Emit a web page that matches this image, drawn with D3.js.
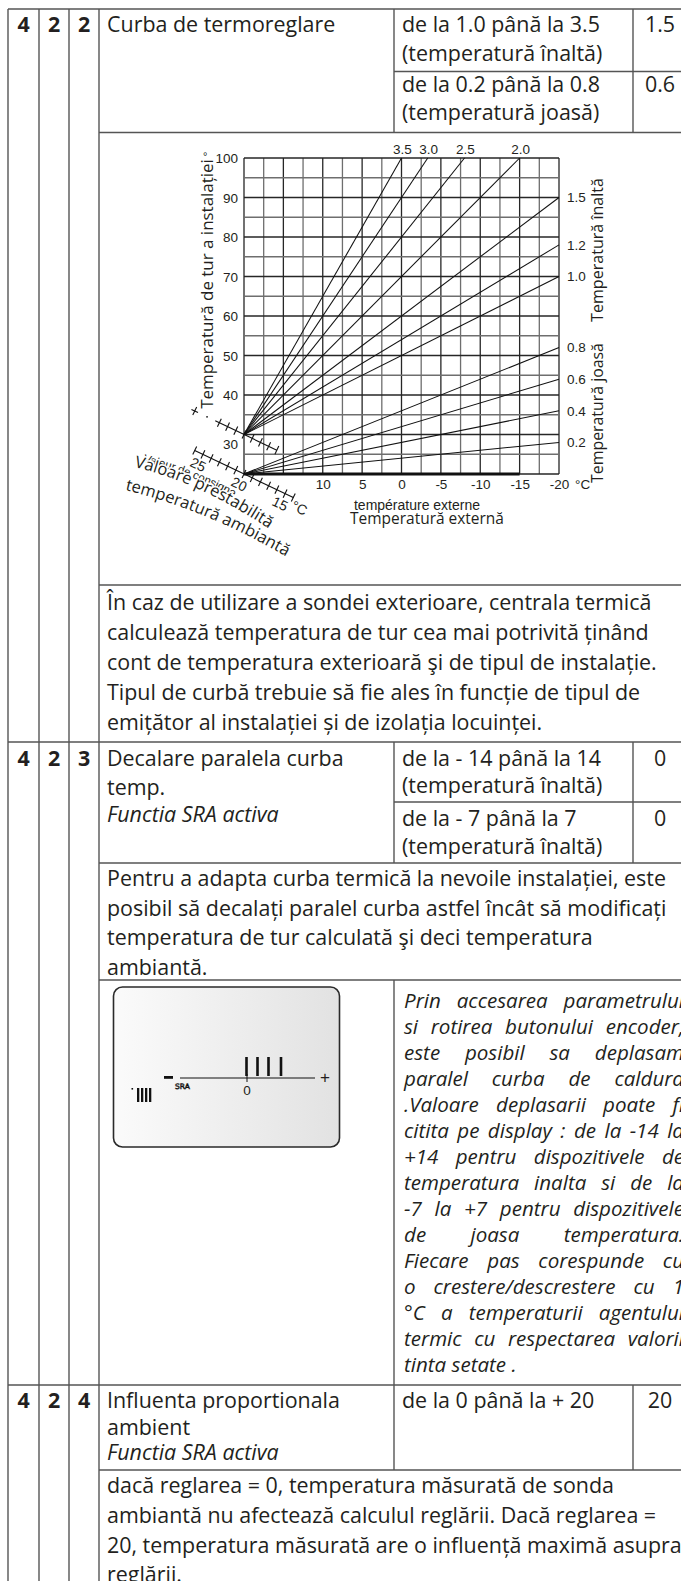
<!DOCTYPE html>
<html><head><meta charset="utf-8">
<script src="https://cdn.jsdelivr.net/npm/d3@7"></script>
<style>
html,body{margin:0;padding:0;background:#fff;overflow:hidden;}
svg{display:block;}
</style></head>
<body>
<svg id="page" width="681" height="1581"></svg>
<script>
// ================= DATA =================
const highCurves = [3.5, 3.0, 2.5, 2.0, 1.5, 1.2, 1.0];
const lowCurves = [0.8, 0.6, 0.4, 0.2];
const highOrigin = 30;          // flow temperature where high curves start (outside 20 °C)
const lowOrigin = 20;           // flow temperature where low curves start
const outsideDomain = [20, -20];
const flowDomain = [20, 100];
const xTickValues = [10, 5, 0, -5, -10, -15, -20];
const yTickValues = [100, 90, 80, 70, 60, 50, 40, 30];
const ambientTickLabels = [25, 20, 15];
const ambientRange = [26, 14];

const row422 = {num: ["4","2","2"], name: ["Curba de termoreglare"],
  ranges: [["de la 1.0 până la 3.5","(temperatură înaltă)"],["de la 0.2 până la 0.8","(temperatură joasă)"]],
  defaults: ["1.5","0.6"]};
const para1 = ["În caz de utilizare a sondei exterioare, centrala termică",
  "calculează temperatura de tur cea mai potrivită ținând",
  "cont de temperatura exterioară şi de tipul de instalație.",
  "Tipul de curbă trebuie să fie ales în funcție de tipul de",
  "emițător al instalației și de izolația locuinței."];
const row423 = {num: ["4","2","3"], name: ["Decalare paralela curba","temp."], nameItalic: "Functia SRA activa",
  ranges: [["de la - 14 până la 14","(temperatură înaltă)"],["de la - 7 până la 7","(temperatură înaltă)"]],
  defaults: ["0","0"]};
const para2 = ["Pentru a adapta curba termică la nevoile instalației, este",
  "posibil să decalați paralel curba astfel încât să modificați",
  "temperatura de tur calculată şi deci temperatura",
  "ambiantă."];
const italicPara = ["Prin accesarea parametrului","si rotirea butonului encoder,","este posibil sa deplasam",
  "paralel curba de caldura",".Valoare deplasarii poate fi","citita pe display : de la -14 la",
  "+14 pentru dispozitivele de","temperatura inalta si de la","-7 la +7 pentru dispozitivele",
  "de joasa temperatura.","Fiecare pas corespunde cu","o crestere/descrestere cu 1",
  "°C a temperaturii agentului","termic cu respectarea valorii","tinta setate ."];
const row424 = {num: ["4","2","4"], name: ["Influenta proportionala","ambient"], nameItalic: "Functia SRA activa",
  ranges: [["de la 0 până la + 20"]], defaults: ["20"]};
const para3 = ["dacă reglarea = 0, temperatura măsurată de sonda",
  "ambiantă nu afectează calculul reglării. Dacă reglarea =",
  "20, temperatura măsurată are o influență maximă asupra",
  "reglării."];

// ================= SETUP =================
const svg = d3.select('#page');
const TXT = '#231f20';
const LINE = '#555';
const BODY = '"Open Sans", "Noto Sans", sans-serif';
const NARROW = '"Liberation Sans Narrow", "Arial Narrow", "Liberation Sans", sans-serif';
const ctx = document.createElement('canvas').getContext('2d');
function measure(t, size, fam, weight, style){
  ctx.font = `${style||'normal'} ${weight||'normal'} ${size}px ${fam}`;
  return ctx.measureText(t).width;
}
const FS = 198 / measure('de la 1.0 până la 3.5', 100, BODY) * 100;

function txt(g, xx, yy, s, o){
  o = o || {};
  return g.append('text').attr('x', xx).attr('y', yy).text(s)
    .attr('font-family', o.fam || BODY).attr('font-size', o.size || FS)
    .attr('font-weight', o.weight || 'normal').attr('font-style', o.style || 'normal')
    .attr('text-anchor', o.anchor || 'start').attr('fill', TXT);
}

// column boundaries
const X = [8, 39, 69, 99, 394, 633, 685];
const T = svg.append('g');
function hline(y, x1, x2){ T.append('line').attr('x1',x1).attr('x2',x2).attr('y1',y).attr('y2',y).attr('stroke',LINE).attr('stroke-width',1.4); }
function vline(x, y1, y2){ T.append('line').attr('x1',x).attr('x2',x).attr('y1',y1).attr('y2',y2).attr('stroke',LINE).attr('stroke-width',1.4); }

// ===== layout (vertical) =====
const L = {
  top: 9, r1a: 32, r1b: 60.5, r1mid: 71.5, r1c: 92, r1d: 120, r1bot: 132.5,
  chartBot: 585,
  p1: 610, p1LH: 30,
  r3top: 742, r3a: 766, r3b: 795, r3mid: 802, r3c: 826, r3d: 854, r3bot: 863,
  r3nameItalic: 822,
  p2: 886, p2LH: 29.5,
  p2bot: 980,
  lcdTop: 987, lcdBot: 1147,
  it1: 1008, itLH: 26,
  r4top: 1385, r4a: 1408, r4b: 1435, r4c: 1460, r4bot: 1470,
  p3: 1493, p3LH: 29.8
};

// borders
hline(L.top, X[0], X[6]);
hline(L.r1mid, X[4], X[6]);
hline(L.r1bot, X[3], X[6]);
hline(L.chartBot, X[3], X[6]);
hline(L.r3top, X[0], X[6]);
hline(L.r3mid, X[4], X[6]);
hline(L.r3bot, X[3], X[6]);
hline(L.p2bot, X[3], X[6]);
hline(L.r4top, X[0], X[6]);
hline(L.r4bot, X[3], X[6]);
[0,1,2,3].forEach(i => vline(X[i], L.top, 1581));
vline(X[6], L.top, 1581);
vline(X[4], L.top, L.r1bot); vline(X[5], L.top, L.r1bot);
vline(X[4], L.r3top, L.r3bot); vline(X[5], L.r3top, L.r3bot);
vline(X[4], L.p2bot, L.r4bot); vline(X[5], L.r4top, L.r4bot);

const colC = i => (X[i] + X[i+1]) / 2;
const TX3 = X[3] + 8, TX4 = X[4] + 8, VC = (X[5] + X[6]) / 2 + 1;

// row 422
row422.num.forEach((n,i) => txt(T, colC(i), L.r1a, n, {weight:'bold', anchor:'middle'}));
txt(T, TX3, L.r1a, row422.name[0]);
txt(T, TX4, L.r1a, row422.ranges[0][0]); txt(T, TX4, L.r1b, row422.ranges[0][1]);
txt(T, TX4, L.r1c, row422.ranges[1][0]); txt(T, TX4, L.r1d, row422.ranges[1][1]);
txt(T, VC, L.r1a, row422.defaults[0], {anchor:'middle'});
txt(T, VC, L.r1c, row422.defaults[1], {anchor:'middle'});

// paragraph 1
para1.forEach((s,i) => txt(T, TX3, L.p1 + i*L.p1LH, s));

// row 423
row423.num.forEach((n,i) => txt(T, colC(i), L.r3a, n, {weight:'bold', anchor:'middle'}));
txt(T, TX3, L.r3a, row423.name[0]); txt(T, TX3, L.r3b, row423.name[1]);
txt(T, TX3, L.r3nameItalic, row423.nameItalic, {style:'italic'});
txt(T, TX4, L.r3a, row423.ranges[0][0]); txt(T, TX4, L.r3b - 2, row423.ranges[0][1]);
txt(T, TX4, L.r3c, row423.ranges[1][0]); txt(T, TX4, L.r3d, row423.ranges[1][1]);
txt(T, VC, L.r3a, row423.defaults[0], {anchor:'middle'});
txt(T, VC, L.r3c, row423.defaults[1], {anchor:'middle'});

// paragraph 2
para2.forEach((s,i) => txt(T, TX3, L.p2 + i*L.p2LH, s));

// italic justified paragraph
const IFS = FS * 0.96;
const itW = 684 - (X[4] + 10);
italicPara.forEach((line, i) => {
  const yy = L.it1 + i * L.itLH;
  const words = line.split(' ');
  const ws = words.map(w => measure(w, IFS, BODY, 'normal', 'italic'));
  const total = d3.sum(ws);
  const sp = measure(' ', IFS, BODY, 'normal', 'italic');
  let gap = sp;
  if (i < italicPara.length - 1 && words.length > 1) gap = Math.max(sp * 0.8, (itW - total) / (words.length - 1));
  let cx = X[4] + 10;
  const t = txt(T, 0, yy, null, {style:'italic', size: IFS});
  words.forEach((w, j) => { t.append('tspan').attr('x', cx).text(w); cx += ws[j] + gap; });
});

// row 424
row424.num.forEach((n,i) => txt(T, colC(i), L.r4a, n, {weight:'bold', anchor:'middle'}));
txt(T, TX3, L.r4a, row424.name[0]); txt(T, TX3, L.r4b, row424.name[1]);
txt(T, TX3, L.r4c, row424.nameItalic, {style:'italic'});
txt(T, TX4, L.r4a, row424.ranges[0][0]);
txt(T, VC, L.r4a, row424.defaults[0], {anchor:'middle'});

// paragraph 3
para3.forEach((s,i) => txt(T, TX3, L.p3 + i*L.p3LH, s));

// ================= CHART =================
const x = d3.scaleLinear().domain(outsideDomain).range([244, 559]);
const y = d3.scaleLinear().domain(flowDomain).range([474, 158]);
const C = svg.append('g');

d3.range(outsideDomain[0], outsideDomain[1] - 0.01, -2.5).forEach(v => {
  C.append('line').attr('x1', x(v)).attr('x2', x(v)).attr('y1', y(flowDomain[0])).attr('y2', y(flowDomain[1]))
   .attr('stroke', v % 5 === 0 ? '#262626' : '#6e6e6e').attr('stroke-width', 1.3);
});
d3.range(flowDomain[0], flowDomain[1] + 0.01, 5).forEach(v => {
  C.append('line').attr('x1', x(outsideDomain[0])).attr('x2', x(outsideDomain[1])).attr('y1', y(v)).attr('y2', y(v))
   .attr('stroke', v % 10 === 0 ? '#262626' : '#6e6e6e').attr('stroke-width', 1.3);
});
C.append('line').attr('x1', x(20)).attr('x2', x(-15)).attr('y1', y(20)).attr('y2', y(20))
  .attr('stroke', '#111').attr('stroke-width', 2.8);

// curves
const curves = highCurves.map(k => ({k, o: highOrigin})).concat(lowCurves.map(k => ({k, o: lowOrigin})));
const lineGen = d3.line().x(d => x(d[0])).y(d => y(d[1]));
const fmt = d3.format('.1f');
curves.forEach(c => {
  const tEnd = Math.max(outsideDomain[1], outsideDomain[0] - (flowDomain[1] - c.o) / c.k);
  const fEnd = c.o + c.k * (outsideDomain[0] - tEnd);
  C.append('path').attr('d', lineGen([[outsideDomain[0], c.o], [tEnd, fEnd]]))
    .attr('fill', 'none').attr('stroke', '#111').attr('stroke-width', 1.05);
  if (fEnd >= flowDomain[1] - 0.01) {
    txt(C, x(tEnd) + 1, y(flowDomain[1]) - 4, fmt(c.k), {fam: NARROW, size: 13.5, anchor: 'middle'});
  } else {
    txt(C, 567, y(fEnd) + 4.8, fmt(c.k), {fam: NARROW, size: 13.5});
  }
});

// axes
const hy = d => String(d);   // plain hyphen-minus, as printed
const ay = C.append('g').attr('transform', `translate(${x(20)},0)`)
  .call(d3.axisLeft(y).tickValues(yTickValues).tickSize(0).tickPadding(6).tickFormat(hy));
ay.select('.domain').remove();
ay.selectAll('text').attr('font-family', NARROW).attr('font-size', 13.5).attr('fill', TXT)
  .attr('dy', d => d === highOrigin ? '1.0em' : '0.34em');
const ax = C.append('g').attr('transform', `translate(0,${y(20)})`)
  .call(d3.axisBottom(x).tickValues(xTickValues).tickSize(0).tickPadding(5).tickFormat(hy));
ax.select('.domain').remove();
ax.selectAll('text').attr('font-family', NARROW).attr('font-size', 13.5).attr('fill', TXT);
txt(C, 575, 488.5, '°C', {fam: NARROW, size: 13.5});

// axis titles
function fitSize(t, len, fam, style){ return len / measure(t, 100, fam, 'normal', style) * 100; }
const yTitle = 'Temperatură de tur a instalației';
txt(C, 0, 0, yTitle, {size: fitSize(yTitle, 250, BODY), anchor: 'middle'})
  .attr('transform', 'translate(213,284) rotate(-90)');
txt(C, 203, 160, '°', {fam: NARROW, size: 11});
const hiT = 'Temperatură înaltă', loT = 'Temperatură joasă';
txt(C, 0, 0, hiT, {size: fitSize(hiT, 144, BODY), anchor: 'middle'}).attr('transform', 'translate(603,250) rotate(-90)');
txt(C, 0, 0, loT, {size: fitSize(loT, 140, BODY), anchor: 'middle'}).attr('transform', 'translate(603,413) rotate(-90)');

txt(C, 417, 510, 'température externe', {fam: '"Liberation Sans", sans-serif', size: 14, anchor: 'middle'});
const extT = 'Temperatură externă';
txt(C, 427, 524, extT, {size: fitSize(extT, 154, BODY), anchor: 'middle'})
  .attr('stroke', '#fff').attr('stroke-width', 3).attr('paint-order', 'stroke');

// ambient set-point scales
const ang = 25.5;
const ux = Math.cos(ang * Math.PI / 180), uy = Math.sin(ang * Math.PI / 180);
const px = -uy, py = ux;
const amb = d3.scaleLinear().domain([20, 10]).range([0, 91]);
const lowO = [x(20), y(lowOrigin)], highO = [x(20), y(highOrigin)];
function ambPt(o, v, off){ off = off || 0; const d = amb(v); return [o[0] + ux * d + px * off, o[1] + uy * d + py * off]; }
function seg(o, v1, v2){ const a = ambPt(o, v1), b = ambPt(o, v2);
  C.append('line').attr('x1', a[0]).attr('y1', a[1]).attr('x2', b[0]).attr('y2', b[1]).attr('stroke', '#111').attr('stroke-width', 1.1); }
function tick(o, v){ const a = ambPt(o, v, -4.5), b = ambPt(o, v, 4.5);
  C.append('line').attr('x1', a[0]).attr('y1', a[1]).attr('x2', b[0]).attr('y2', b[1]).attr('stroke', '#111').attr('stroke-width', 1.1); }
seg(lowO, ambientRange[0], ambientRange[1]);
d3.range(ambientRange[1], ambientRange[0] + 0.01, 1).forEach(v => tick(lowO, v));
seg(highO, 23.5, 16);
d3.range(16, 23.01, 1).forEach(v => tick(highO, v));
seg(highO, 26.4, 25.6); tick(highO, 26);
const dp = ambPt(highO, 24.5);
C.append('circle').attr('cx', dp[0]).attr('cy', dp[1]).attr('r', 0.9).attr('fill', '#111');
ambientTickLabels.forEach(v => {
  const p = ambPt(lowO, v, 12.5);
  txt(C, 0, 0, String(v), {fam: NARROW, size: 14, anchor: 'middle'})
    .attr('dominant-baseline', 'middle').attr('transform', `translate(${p[0]},${p[1]}) rotate(${ang})`);
});
const cp = ambPt(lowO, 12.9, 8);
txt(C, 0, 0, '°C', {fam: NARROW, size: 14, anchor: 'middle'})
  .attr('dominant-baseline', 'middle').attr('transform', `translate(${cp[0]},${cp[1]}) rotate(${ang})`);

// curved labels
const defs = svg.append('defs');
defs.append('path').attr('id', 'pVal').attr('d', 'M143,462 Q206,477 274,521');
defs.append('path').attr('id', 'pPre').attr('d', 'M134,467 Q200,482 274,532');
defs.append('path').attr('id', 'pAmb').attr('d', 'M125,490 Q208,510 292,560');
function pathText(id, s, size, fam, halo){
  const t = C.append('text').attr('font-family', fam).attr('font-size', size).attr('fill', TXT);
  if (halo) t.attr('stroke', '#fff').attr('stroke-width', 3).attr('paint-order', 'stroke');
  t.append('textPath').attr('href', '#' + id).text(s);
}
pathText('pVal', 'Valeur de consigne', 11.5, '"Liberation Sans", sans-serif', false);
pathText('pPre', 'Valoare prestabilită', 16.5, BODY, true);
pathText('pAmb', 'temperatură ambiantă', 16.5, BODY, true);

// ================= LCD DISPLAY =================
const D = svg.append('g');
const grad = defs.append('linearGradient').attr('id', 'lcdG').attr('x1', 0).attr('x2', 1).attr('y1', 0).attr('y2', 0);
grad.append('stop').attr('offset', 0).attr('stop-color', '#fbfbfb');
grad.append('stop').attr('offset', 1).attr('stop-color', '#e2e2e2');
const lt = L.lcdTop;
D.append('rect').attr('x', 113.5).attr('y', lt).attr('width', 226).attr('height', L.lcdBot - lt)
  .attr('rx', 9).attr('fill', 'url(#lcdG)').attr('stroke', '#2a2a2a').attr('stroke-width', 1.6);
D.append('line').attr('x1', 180).attr('x2', 315).attr('y1', lt + 91).attr('y2', lt + 91).attr('stroke', '#111').attr('stroke-width', 1);
D.append('line').attr('x1', 247).attr('x2', 247).attr('y1', lt + 87).attr('y2', lt + 95).attr('stroke', '#111').attr('stroke-width', 1);
[246.5, 257.5, 268.5, 281].forEach(bx => D.append('rect').attr('x', bx - 1.3).attr('y', lt + 70).attr('width', 2.6).attr('height', 19).attr('fill', '#111'));
D.append('rect').attr('x', 164).attr('y', lt + 89).attr('width', 9).attr('height', 2.8).attr('fill', '#111');
txt(D, 247, lt + 108, '0', {fam: '"Liberation Sans", sans-serif', size: 13.5, anchor: 'middle'});
txt(D, 325, lt + 96, '+', {fam: '"Liberation Sans", sans-serif', size: 17, anchor: 'middle'});
txt(D, 175, lt + 102, 'SRA', {fam: '"DejaVu Sans", sans-serif', size: 7.5}).attr('fill', 'none').attr('stroke', '#111').attr('stroke-width', 0.6);
D.append('rect').attr('x', 131.5).attr('y', lt + 101).attr('width', 1.6).attr('height', 1.6).attr('fill', '#111');
[137, 141, 145, 149].forEach(bx => D.append('rect').attr('x', bx).attr('y', lt + 101).attr('width', 2.3).attr('height', 14).attr('fill', '#111'));
</script>
</body></html>
